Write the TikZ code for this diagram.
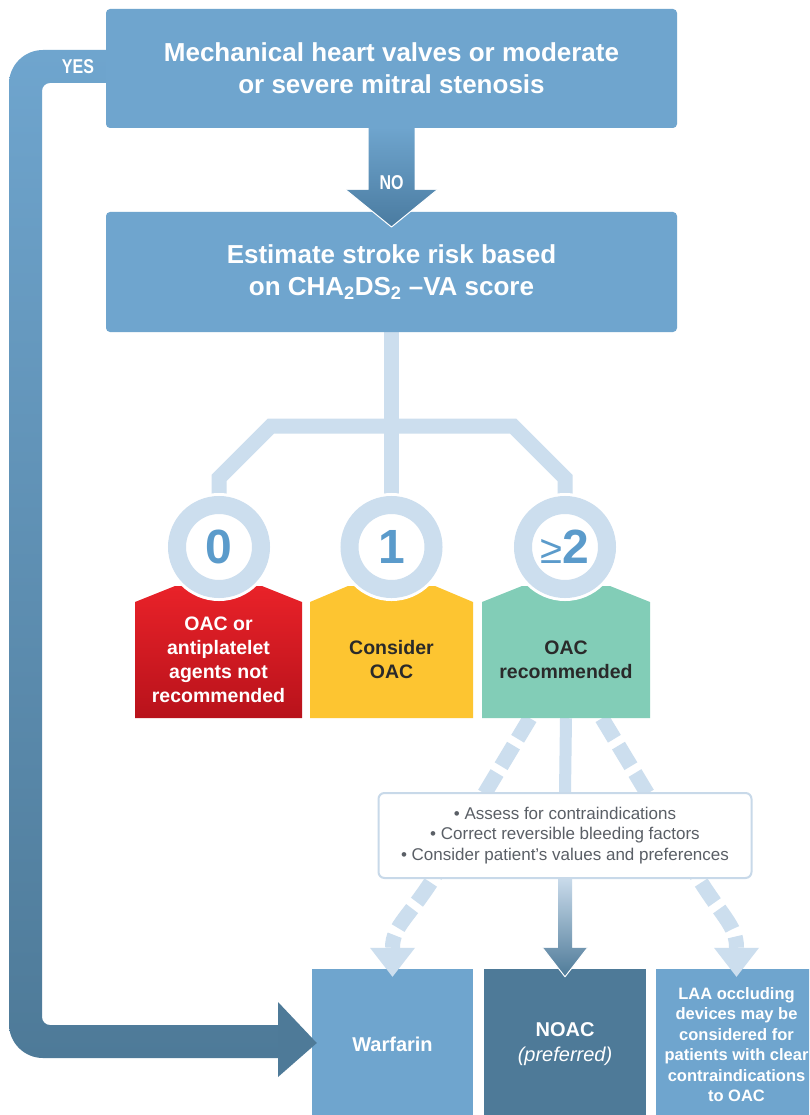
\documentclass[tikz,border=0pt]{standalone}
\usepackage{fontspec}
\setmainfont{Liberation Sans}
\newfontfamily\narrowfont[FakeStretch=0.8]{Liberation Sans}
\usetikzlibrary{calc}
\definecolor{mainblue}{HTML}{6FA5CE}
\definecolor{darkblue}{HTML}{4E7A98}
\definecolor{nodark}{HTML}{4A7BA0}
\definecolor{lightline}{HTML}{CCDEEE}
\definecolor{palearrow}{HTML}{C8DAEA}
\definecolor{redtop}{HTML}{E92229}
\definecolor{redbot}{HTML}{B8121B}
\definecolor{yellowbox}{HTML}{FDC531}
\definecolor{greenbox}{HTML}{82CDB7}
\definecolor{textdark}{HTML}{2A2A2A}
\definecolor{infoborder}{HTML}{C8D9E9}
\definecolor{infotext}{HTML}{5A5F66}
\definecolor{numblue}{HTML}{5B9BCB}
\pgfdeclarelayer{back}
\pgfsetlayers{back,main}
\tikzset{
  mainbox/.style={fill=mainblue, rounded corners=4pt, minimum width=571pt, minimum height=119pt, inner sep=0pt, text=white, align=center, font=\fontsize{26}{32}\selectfont\bfseries},
  tree/.style={draw=lightline, line width=15pt, line join=miter},
  ring/.style={circle, preaction={draw=white, line width=24pt}, draw=lightline, line width=18pt, fill=white, minimum size=84pt, inner sep=0pt, text=numblue, font=\fontsize{48}{48}\selectfont\bfseries},
  scorebox/.style={minimum width=#1, minimum height=116pt, inner sep=0pt, align=center, font=\fontsize{19.5}{24}\selectfont\bfseries},
  infobox/.style={draw=infoborder, line width=2pt, fill=white, rounded corners=6pt, minimum width=373pt, minimum height=85pt, inner sep=0pt, align=center, text=infotext, font=\fontsize{17}{20.5}\selectfont},
  treatbox/.style={minimum width=#1, minimum height=151pt, inner sep=0pt, align=center, text=white, font=\fontsize{20}{25}\selectfont\bfseries},
  flag/.style={text=white, inner sep=0pt, font=\narrowfont\fontsize{20}{20}\selectfont\bfseries},
  dashline/.style={draw=lightline, line width=15pt, dash pattern=on 24pt off 8pt},
  edgeline/.style={draw=white, line width=1pt, line join=round},
}
\begin{document}
\begin{tikzpicture}[x=1pt,y=1pt]
\useasboundingbox (0,0) rectangle (809,-1115);
\clip (0,0) rectangle (809,-1115);

% YES band
\shade[top color=mainblue, bottom color=darkblue]
  (110,-50) -- (43,-50) arc[start angle=90, end angle=180, radius=34]
  -- (9,-1024) arc[start angle=180, end angle=270, radius=34]
  -- (285,-1058) -- (285,-1025) -- (50,-1025)
  arc[start angle=270, end angle=180, radius=8]
  -- (42,-91) arc[start angle=180, end angle=90, radius=8]
  -- (110,-83) -- cycle;

% question boxes
\node[mainbox] (q1) at (391.5,-68.5) {Mechanical heart valves or moderate\\or severe mitral stenosis};
\node[mainbox, minimum height=120pt] (q2) at (391.5,-272) {Estimate stroke risk based\\on CHA\textsubscript{2}DS\textsubscript{2} –VA score};

% NO arrow
\shade[top color=mainblue, bottom color=nodark]
  (368.5,-127) -- (414.5,-127) -- (414.5,-190) -- (437,-190) -- (391.5,-227)
  -- (346,-190) -- (368.5,-190) -- cycle;
\draw[edgeline] (346,-190) -- (391.5,-227) -- (437,-190);
\node[flag] (no) at (391.5,-183) {NO};
\node[flag] (yes) at (78,-66.5) {YES};

% score boxes
\shade[top color=redtop, bottom color=redbot]
  (135,-718) -- (135,-602) -- (175,-586) -- (262,-586) -- (302,-602) -- (302,-718) -- cycle;
\node[scorebox=167pt, text=white] (b0) at (218.5,-660) {OAC or\\antiplatelet\\agents not\\recommended};
\fill[yellowbox]
  (310,-718) -- (310,-602) -- (348,-586) -- (435,-586) -- (473,-602) -- (473,-718) -- cycle;
\node[scorebox=163pt, text=textdark] (b1) at (391.5,-660) {Consider\\OAC};
\fill[greenbox]
  (482,-718) -- (482,-602) -- (522,-586) -- (610,-586) -- (650,-602) -- (650,-718) -- cycle;
\node[scorebox=168pt, text=textdark] (b2) at (566,-660) {OAC\\recommended};

% score circles
\node[ring] (c0) at (219,-547) {0};
\node[ring] (c1) at (391.5,-547) {1};
\node[ring] (c2) at (565,-547) {{\fontsize{40}{40}\selectfont\mdseries ≥}2};

% info box
\node[infobox] (info) at (565,-835.5) {\textbullet\ Assess for contraindications\\\textbullet\ Correct reversible bleeding factors\\\textbullet\ Consider patient’s values and preferences};

% treatment boxes
\node[treatbox=161pt, fill=mainblue] (w) at (392.5,-1044.5) {Warfarin};
\node[treatbox=162pt, fill=darkblue] (n) at (565,-1044.5) {NOAC\\{\mdseries\itshape (preferred)}};
\node[treatbox=161pt, fill=mainblue, font=\fontsize{16.5}{20.5}\selectfont\bfseries] (l) at (736.5,-1044.5) {LAA occluding\\devices may be\\considered for\\patients with clear\\contraindications\\to OAC};

% arrowheads on treatment boxes
\fill[lightline] ($(w.north)+(-22.5,21)$) -- ($(w.north)+(22.5,21)$) -- ($(w.north)+(0,-8)$) -- cycle;
\fill[lightline] ($(l.north)+(-22.5,21)$) -- ($(l.north)+(22.5,21)$) -- ($(l.north)+(0,-8)$) -- cycle;
\shade[top color=palearrow, bottom color=darkblue]
  ($(info.south)+(-7,0)$) -- ($(info.south)+(7,0)$) -- ($(n.north)+(7,21)$)
  -- ($(n.north)+(22.5,21)$) -- ($(n.north)+(0,-8)$) -- ($(n.north)+(-22.5,21)$)
  -- ($(n.north)+(-7,21)$) -- cycle;
\draw[edgeline] ($(n.north)+(-22.5,21)$) -- ($(n.north)+(0,-8)$) -- ($(n.north)+(22.5,21)$);

% YES arrowhead
\fill[darkblue] (278,-1002) -- ($(w.west)+(5,1.5)$) -- (278,-1077) -- cycle;

\begin{pgfonlayer}{back}
\fill[white] (0,0) rectangle (809,-1115);
\draw[tree] (q2.south) -- (c1.north);
\draw[tree] (c0.north) -- (219,-478) -- (271,-426) -- (513,-426) -- (565,-478) -- (c2.north);
\draw[draw=lightline, line width=12pt] (b2.south) -- (info.north);
\draw[dashline] ($(b2.south)+(-36,0)$) -- ($(w.north)+(47.5,101)$)
  .. controls ($(w.north)+(17.5,51)$) and ($(w.north)+(0,44)$) .. ($(w.north)+(0,21)$);
\draw[dashline] ($(b2.south)+(36,0)$) -- ($(l.north)+(-44.5,101)$)
  .. controls ($(l.north)+(-14.5,51)$) and ($(l.north)+(0,44)$) .. ($(l.north)+(0,21)$);
\end{pgfonlayer}
\end{tikzpicture}
\end{document}
